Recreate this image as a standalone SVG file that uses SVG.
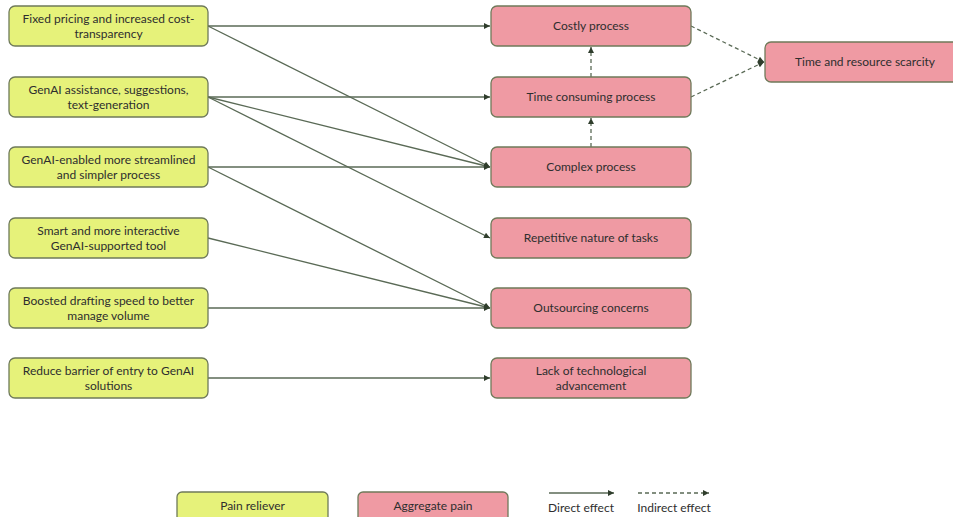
<svg xmlns="http://www.w3.org/2000/svg" width="953" height="517" viewBox="0 0 953 517">
<defs>
<style>
.rel rect{fill:#e6f27a;stroke:#6f7a5a;stroke-width:1.3}
.pain rect{fill:#ef9aa3;stroke:#6f7a5a;stroke-width:1.3}
text{font-family:"Lato","Liberation Sans",sans-serif;font-size:12px;fill:#2e2e2e;text-anchor:middle}
.c line{stroke:#5a6a56;stroke-width:1.3;fill:none}
.c .d{stroke-dasharray:4 3}
</style>
<marker id="ah" viewBox="0 0 10 10" refX="10" refY="5" markerWidth="7" markerHeight="6" markerUnits="userSpaceOnUse" orient="auto">
<path d="M0,0 L10,5 L0,10 z" fill="#2f3d2c"/>
</marker>
</defs>
<rect width="953" height="517" fill="#fff"/>
<g class="c" id="connectors">
<line x1="208" y1="26" x2="490" y2="26" marker-end="url(#ah)"/>
<line x1="208" y1="26" x2="490" y2="167" marker-end="url(#ah)"/>
<line x1="208" y1="97" x2="490" y2="97" marker-end="url(#ah)"/>
<line x1="208" y1="97" x2="490" y2="167" marker-end="url(#ah)"/>
<line x1="208" y1="97" x2="490" y2="238" marker-end="url(#ah)"/>
<line x1="208" y1="167" x2="490" y2="167" marker-end="url(#ah)"/>
<line x1="208" y1="167" x2="490" y2="308" marker-end="url(#ah)"/>
<line x1="208" y1="238" x2="490" y2="308" marker-end="url(#ah)"/>
<line x1="208" y1="308" x2="490" y2="308" marker-end="url(#ah)"/>
<line x1="208" y1="378" x2="490" y2="378" marker-end="url(#ah)"/>
<line class="d" x1="591" y1="77" x2="591" y2="47" marker-end="url(#ah)"/>
<line class="d" x1="591" y1="147" x2="591" y2="118" marker-end="url(#ah)"/>
<line class="d" x1="691" y1="26" x2="764" y2="62" marker-end="url(#ah)"/>
<line class="d" x1="691" y1="97" x2="764" y2="62" marker-end="url(#ah)"/>
<line x1="549" y1="493" x2="614" y2="493" marker-end="url(#ah)"/>
<line class="d" x1="638" y1="493" x2="709" y2="493" marker-end="url(#ah)"/>
</g>
<g class="rel" id="r1"><rect x="9" y="6" width="199" height="40" rx="6"/><text x="108.5" y="23">Fixed pricing and increased cost-</text><text x="108.5" y="38">transparency</text></g>
<g class="rel" id="r2"><rect x="9" y="77" width="199" height="40" rx="6"/><text x="108.5" y="94">GenAI assistance, suggestions,</text><text x="108.5" y="109">text-generation</text></g>
<g class="rel" id="r3"><rect x="9" y="147" width="199" height="40" rx="6"/><text x="108.5" y="164">GenAI-enabled more streamlined</text><text x="108.5" y="179">and simpler process</text></g>
<g class="rel" id="r4"><rect x="9" y="218" width="199" height="40" rx="6"/><text x="108.5" y="235">Smart and more interactive</text><text x="108.5" y="250">GenAI-supported tool</text></g>
<g class="rel" id="r5"><rect x="9" y="288" width="199" height="40" rx="6"/><text x="108.5" y="305">Boosted drafting speed to better</text><text x="108.5" y="320">manage volume</text></g>
<g class="rel" id="r6"><rect x="9" y="358" width="199" height="40" rx="6"/><text x="108.5" y="375">Reduce barrier of entry to GenAI</text><text x="108.5" y="390">solutions</text></g>
<g class="pain" id="p1"><rect x="491" y="6" width="200" height="40" rx="6"/><text x="591" y="30">Costly process</text></g>
<g class="pain" id="p2"><rect x="491" y="77" width="200" height="40" rx="6"/><text x="591" y="101">Time consuming process</text></g>
<g class="pain" id="p3"><rect x="491" y="147" width="200" height="40" rx="6"/><text x="591" y="171">Complex process</text></g>
<g class="pain" id="p4"><rect x="491" y="218" width="200" height="40" rx="6"/><text x="591" y="242">Repetitive nature of tasks</text></g>
<g class="pain" id="p5"><rect x="491" y="288" width="200" height="40" rx="6"/><text x="591" y="312">Outsourcing concerns</text></g>
<g class="pain" id="p6"><rect x="491" y="358" width="200" height="40" rx="6"/><text x="591" y="375">Lack of technological</text><text x="591" y="390">advancement</text></g>
<g class="pain" id="p7"><rect x="765" y="42" width="200" height="40" rx="6"/><text x="865" y="66">Time and resource scarcity</text></g>
<g class="rel" id="legend-reliever"><rect x="177" y="492" width="151" height="34" rx="5"/><text x="252.5" y="510">Pain reliever</text></g>
<g class="pain" id="legend-pain"><rect x="358" y="492" width="150" height="34" rx="5"/><text x="433" y="510">Aggregate pain</text></g>
<text x="581" y="512">Direct effect</text>
<text x="674" y="512">Indirect effect</text>
</svg>
